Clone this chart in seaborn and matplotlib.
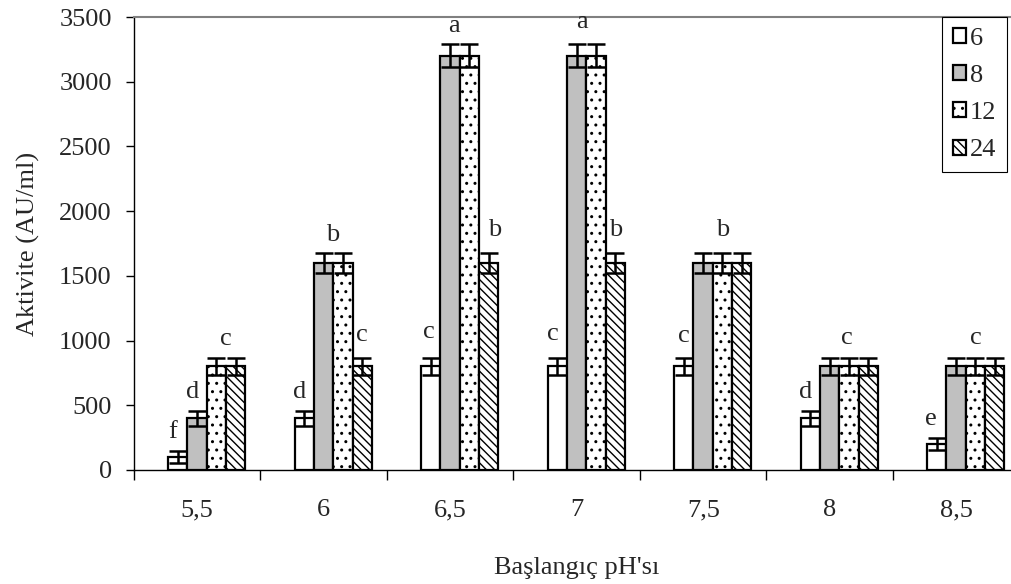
import numpy as np
import pandas as pd
import matplotlib
matplotlib.use("Agg")
import matplotlib.pyplot as plt
import seaborn as sns

# values
ph_labels = ["5,5", "6", "6,5", "7", "7,5", "8", "8,5"]
hours = ["6", "8", "12", "24"]
act_6 = [100, 400, 800, 800, 800, 400, 200]
act_8 = [400, 1600, 3200, 3200, 1600, 800, 800]
act_12 = [800, 1600, 3200, 3200, 1600, 800, 800]
act_24 = [800, 800, 1600, 1600, 1600, 800, 800]
err_6 = [45, 57, 65, 65, 65, 57, 45]
err_8 = [57, 75, 88, 88, 75, 65, 65]
err_12 = [65, 75, 88, 88, 75, 65, 65]
err_24 = [65, 65, 75, 75, 75, 65, 65]

# significance letters: group, bar slot it sits over, text, height
letter_group = [0, 0, 0, 1, 1, 1, 2, 2, 2, 3, 3, 3, 4, 4, 5, 5, 6, 6]
letter_slot = [-0.25, 0.75, 2.5, -0.25, 1.45, 3, -0.1, 1.2, 3.3,
               -0.25, 1.3, 3, 0, 2, -0.25, 1.9, -0.3, 2]
letter_text = ["f", "d", "c", "d", "b", "c", "c", "a", "b",
               "c", "a", "b", "c", "b", "d", "c", "e", "c"]
letter_y = [297, 599, 1012, 599, 1817, 1043, 1063, 3434, 1856,
            1050, 3465, 1856, 1037, 1856, 599, 1017, 392, 1017]

values = [act_6, act_8, act_12, act_24]
errors = [err_6, err_8, err_12, err_24]
df = pd.DataFrame({
    "pH": np.tile(ph_labels, len(hours)),
    "Saat": np.repeat(hours, len(ph_labels)),
    "Aktivite": np.concatenate(values),
})

sns.set_style("white")
plt.rcParams["font.family"] = ["Liberation Serif", "DejaVu Serif"]
plt.rcParams["hatch.linewidth"] = 1.0
fs = 19

fig = plt.figure(figsize=(10.12, 5.84), dpi=100)
# plot area runs past the right edge of the picture, as in the original crop
ax = fig.add_axes([134 / 1012, 114 / 584, 885.5 / 1012, 453 / 584])

bar_w = 0.61
palette = ["white", "#c0c0c0", "white", "white"]
sns.barplot(data=df, x="pH", y="Aktivite", hue="Saat", order=ph_labels,
            hue_order=hours, palette=palette, width=bar_w, errorbar=None,
            edgecolor="black", linewidth=1.6, saturation=1, ax=ax)
bar_conts = list(ax.containers)

hatches = ["", "", "..", "\\\\\\\\"]
for cont, hatch, err in zip(bar_conts, hatches, errors):
    xs = []
    for p in cont.patches:
        p.set_hatch(hatch)
        xs.append(p.get_x() + p.get_width() / 2)
    vals = [p.get_height() for p in cont.patches]
    ax.errorbar(xs, vals, yerr=err, fmt="none", ecolor="black",
                elinewidth=1.8, capsize=6.5, capthick=1.8, zorder=5)

# letters
slot_w = bar_w / len(hours)
for g, s, t, y in zip(letter_group, letter_slot, letter_text, letter_y):
    ax.text(g + (s - 1.5) * slot_w, y, t, ha="center", va="center",
            fontsize=fs)

# bars sit a little right of the centre of each category slot
shift = 0.075
n = len(ph_labels)
ax.set_xlim(-0.5 - shift, n - 0.5 - shift)
ax.set_ylim(0, 3500)
ax.set_yticks(np.arange(0, 3501, 500))
ax.set_xticks(np.arange(n) - shift)
ax.set_xticklabels(ph_labels)
ax.set_xticks(np.arange(n + 1) - 0.5 - shift, minor=True)
ax.tick_params(axis="x", which="major", length=0, pad=21, labelsize=fs)
ax.tick_params(axis="x", which="minor", length=7, width=1, direction="out",
               bottom=True, color="black")
ax.tick_params(axis="y", length=6, width=1, direction="out", left=True,
               color="black", labelsize=fs, pad=10)

for side in ["left", "bottom"]:
    ax.spines[side].set_color("black")
    ax.spines[side].set_linewidth(1.0)
ax.spines["right"].set_visible(False)
ax.spines["top"].set_color("#808080")
ax.spines["top"].set_linewidth(1.5)

ax.set_xlabel("Başlangıç pH'sı", fontsize=fs, labelpad=26)
ax.set_ylabel("Aktivite (AU/ml)", fontsize=fs, labelpad=14)

handles = [c.patches[0] for c in bar_conts]
leg = ax.legend(handles, hours, loc="upper left",
                bbox_to_anchor=(942 / 1012, 1 - 17 / 584),
                bbox_transform=fig.transFigure, fontsize=fs, frameon=True,
                fancybox=False, framealpha=1, edgecolor="black",
                borderpad=0.4, labelspacing=0.58, handlelength=0.5,
                handleheight=0.5, handletextpad=0.15, borderaxespad=0)
leg.get_frame().set_linewidth(0.8)
leg.set_zorder(10)

fig.savefig("out.png", dpi=100)
